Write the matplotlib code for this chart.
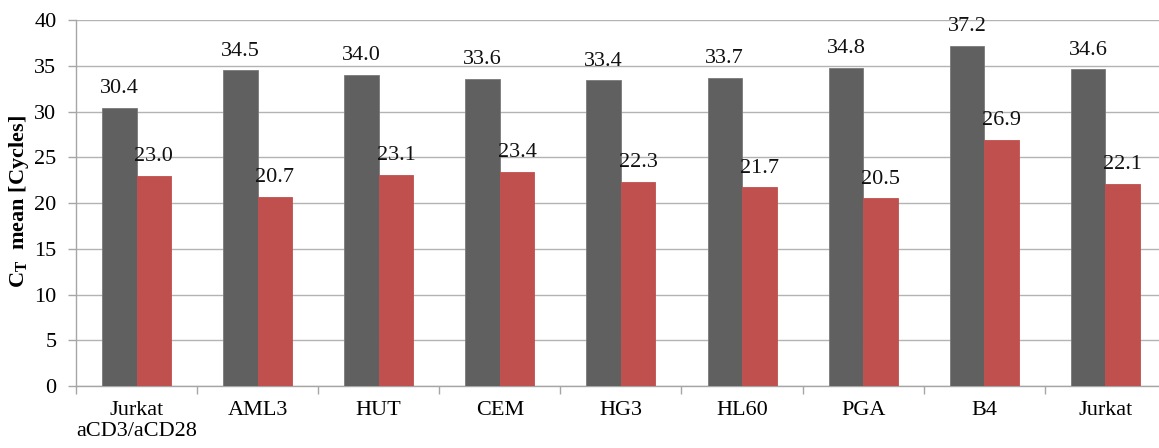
import matplotlib
matplotlib.use("Agg")
import matplotlib.pyplot as plt
import numpy as np

# Cell lines and mean Ct values for the two assays
categories = ["Jurkat\naCD3/aCD28", "AML3", "HUT", "CEM", "HG3", "HL60", "PGA", "B4", "Jurkat"]
series_gray = [30.4, 34.5, 34.0, 33.6, 33.4, 33.7, 34.8, 37.2, 34.6]
series_red = [23.0, 20.7, 23.1, 23.4, 22.3, 21.7, 20.5, 26.9, 22.1]
y_ticks = [0, 5, 10, 15, 20, 25, 30, 35, 40]

plt.rcParams["font.family"] = ["Liberation Serif", "DejaVu Serif"]
plt.rcParams["mathtext.fontset"] = "custom"
plt.rcParams["mathtext.rm"] = "Liberation Serif"
plt.rcParams["mathtext.bf"] = "Liberation Serif:bold"

W, H = 1159, 448
fig = plt.figure(figsize=(W / 100, H / 100), dpi=100)
left_px, bottom_px, top_px, cat_px = 76, 386, 20, 121.1
ax = fig.add_axes([left_px / W, (H - bottom_px) / H,
                   len(categories) * cat_px / W, (bottom_px - top_px) / H])

gray = "#606060"
red = "#c0504d"
grid_c = "#b3b3b3"
spine_c = "#a6a6a6"
fs = 16

x = np.arange(len(categories))
w = 0.285
bars_g = ax.bar(x - w / 2, series_gray, w, color=gray, edgecolor="#7a7a7a",
                linewidth=0.6, zorder=3)
bars_r = ax.bar(x + w / 2, series_red, w, color=red, edgecolor=red,
                linewidth=0.6, zorder=3)

for bars, vals in ((bars_g, series_gray), (bars_r, series_red)):
    for b, v in zip(bars, vals):
        ax.annotate(f"{v:.1f}", (b.get_x() + b.get_width() / 2, v),
                    xytext=(0, 10.5), textcoords="offset points",
                    ha="center", va="baseline", fontsize=fs, color="#111111",
                    zorder=4)

ax.set_xlim(-0.5, len(categories) - 0.5)
ax.set_ylim(0, 40)
ax.set_yticks(y_ticks)
ax.yaxis.grid(True, color=grid_c, linewidth=1.0, zorder=0)
ax.set_axisbelow(True)

ax.set_xticks(x)
ax.set_xticklabels(categories, fontsize=fs, linespacing=1.15)
ax.set_xticks(np.arange(len(categories)) - 0.5, minor=True)
ax.tick_params(axis="x", which="major", length=0, pad=11)
ax.tick_params(axis="x", which="minor", length=6, color=spine_c, width=1)
ax.tick_params(axis="y", length=6, color=spine_c, width=1, pad=8,
               labelsize=fs)

for s in ("top", "right"):
    ax.spines[s].set_visible(False)
for s in ("left", "bottom"):
    ax.spines[s].set_color(spine_c)
    ax.spines[s].set_linewidth(1.0)

fig.text(19 / W, 1 - 202 / H, r"C$_{\mathbf{T}}$  mean [Cycles]",
         rotation=90, ha="center", va="center", fontsize=16,
         fontweight="bold")

fig.savefig("out.png", dpi=100)
